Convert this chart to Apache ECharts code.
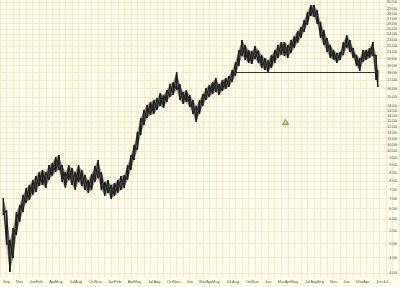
<!DOCTYPE html>
<html><head><meta charset="utf-8">
<script src="https://cdn.jsdelivr.net/npm/echarts@6/dist/echarts.min.js"></script>
<style>html,body{margin:0;padding:0;background:#fffdea}#c{width:400px;height:287px}</style>
</head><body><div id="c"></div>
<script>
// months since the start of the first August shown
const months = [0.5,1,1.5,2,2.5,3,3.5,4,4.5,5,5.5,6,6.5,7,7.5,8,8.5,9,9.5,10,10.5,11,11.5,12,12.5,13,13.5,14,14.5,15,15.5,16,16.5,17,17.5,18,18.5,19,19.5,20,20.5,21,21.5,22,22.5,23,23.5,24,24.5,25,25.5,26,26.5,27,27.5,28,28.5,29,29.5,30,30.5,31,31.5,32,32.5,33,33.5,34,34.5,35,35.5,36,36.5,37,37.5,38,38.5,39,39.5,40,40.5,41,41.5,42,42.5,43,43.5,44,44.5,45,45.5,46,46.5,47,47.5,48,48.5,49,49.5,50,50.5,51,51.5,52,52.5,53,53.5,54,54.5,55,55.5,56,56.5,57,57.5,57.75];
const highs = [7.04,6.43,5.14,5.62,6.33,6.68,7.20,7.59,7.76,8.05,8.30,8.55,8.68,8.55,9.01,9.15,9.57,9.71,9.01,8.55,9.01,8.81,8.55,9.01,8.68,8.36,8.05,8.42,8.94,9.36,8.55,7.93,8.05,7.76,7.87,8.05,8.30,8.36,9.01,9.71,10.47,11.54,12.82,13.61,14.13,14.45,14.67,14.89,15.46,15.23,15.81,16.53,16.79,18.09,16.53,15.58,15.81,15.23,14.67,14.03,14.67,15.35,16.05,16.41,16.79,17.30,16.53,17.04,17.30,17.56,18.37,19.51,21.34,23.00,22.16,21.34,21.18,22.00,21.34,20.56,20.10,19.80,20.56,21.34,22.16,22.66,22.66,22.16,23.00,23.70,24.61,25.36,26.72,28.37,29.90,29.90,28.80,26.33,24.79,23.35,22.16,21.34,20.87,21.02,22.66,23.88,23.00,21.67,20.56,20.10,21.34,21.34,21.67,22.66,20.56,18.37];
const lows = [6.19,4.95,4.04,4.49,5.33,5.88,6.33,6.78,6.93,7.20,7.36,7.70,7.76,7.59,8.05,8.30,8.55,8.68,7.93,7.59,8.05,7.76,7.47,7.93,7.70,7.47,7.31,7.47,7.93,8.17,7.47,7.15,7.31,6.98,7.15,7.31,7.47,7.59,8.05,8.68,9.36,10.08,11.28,12.16,12.82,13.11,13.21,13.61,14.03,13.82,14.45,15.00,15.23,15.81,14.67,14.24,14.45,13.92,13.21,12.44,13.21,14.03,14.67,15.00,15.35,15.58,15.23,15.69,15.93,16.17,16.79,17.56,18.92,20.41,19.80,19.36,19.21,19.95,19.36,18.65,18.37,18.09,18.65,19.36,20.10,20.56,20.41,20.10,20.87,21.67,22.50,23.35,24.43,25.74,27.53,27.33,25.94,23.35,22.16,21.02,20.10,19.80,19.36,19.80,20.56,21.67,21.02,20.10,18.92,18.23,19.51,19.80,20.10,20.41,17.04,16.17];
// price tick labels on the right
const yTicks = [4,4.5,5,5.5,6,6.5,7,7.5,8,8.5,9,9.5,10,10.5,11,11.5,12,12.5,13,13.5,14,15,16,17,18,19,20,21,22,23,24,25,26,27,28,29,30.5];
const yRange = [3.892, 31.04];
// month tick labels along the bottom
const xLabelMonths = [0,1,3,5,6,8,9,11,12,14,15,17,18,20,21,23,24,26,27,29,31,32,33,35,36,38,39,41,43,44,45,47,48,49,51,53,55,56,58,59];
const xLabelNames = ['Aug','Sep','Nov','Jan','Feb','Apr','May','Jul','Aug','Oct','Nov','Jan','Feb','Apr','May','Jul','Aug','Oct','Nov','Jan','Mar','Apr','May','Jul','Aug','Oct','Nov','Jan','Mar','Apr','May','Jul','Aug','Sep','Nov','Jan','Mar','Apr','Jun','Jul'];
const xRange = [0, 61];
// support line and marker
const supportPrice = [18];
const supportMonths = [35.7, 57.8];
const markerMonth = [43.65];
const markerPrice = [12.44];

const lnH = highs.map(Math.log), lnL = lows.map(Math.log);
const gridCol = '#eeeacb';
const ink = '#1c1c1c';
const chart = echarts.init(document.getElementById('c'), null, {renderer:'canvas'});
chart.setOption({
  animation:false,
  backgroundColor:'#fffdea',
  grid:{left:-1.8, right:1, top:0, bottom:10, containLabel:false},
  xAxis:{type:'value', min:xRange[0], max:xRange[1], interval:1,
    axisLine:{show:false}, axisTick:{show:false},
    splitLine:{show:true, lineStyle:{color:gridCol, width:1}},
    axisLabel:{customValues:xLabelMonths, fontSize:4, color:'#555', margin:3, fontFamily:'Liberation Sans',
      formatter:v=>{const k=xLabelMonths.indexOf(Math.round(v)); return k>=0?xLabelNames[k]:'';}}},
  yAxis:{type:'value', position:'right', min:Math.log(yRange[0]), max:Math.log(yRange[1]),
    axisLine:{show:false},
    axisTick:{show:false, customValues:yTicks.map(Math.log)},
    splitLine:{show:true, lineStyle:{color:gridCol, width:1}},
    axisLabel:{inside:true, customValues:yTicks.map(Math.log), fontSize:4, color:'#555', margin:2, fontFamily:'Liberation Sans',
      formatter:v=>Math.exp(v).toFixed(2)}},
  series:[
    {type:'custom', clip:true,
     data:months.map((m,i)=>[m,lnH[i],lnL[i]]),
     renderItem:(params, api)=>{
       const i = params.dataIndex;
       const top = api.coord([months[i], lnH[i]]);
       const bot = api.coord([months[i], lnL[i]]);
       const children = [{type:'line', shape:{x1:top[0], y1:top[1], x2:bot[0], y2:bot[1]}, style:{stroke:ink, lineWidth:1.4}}];
       if (i < months.length-1) {
         const nTop = api.coord([months[i+1], lnH[i+1]]);
         const nBot = api.coord([months[i+1], lnL[i+1]]);
         children.push({type:'line', shape:{x1:top[0], y1:top[1], x2:nBot[0], y2:nBot[1]}, style:{stroke:ink, lineWidth:1}});
         children.push({type:'line', shape:{x1:bot[0], y1:bot[1], x2:nTop[0], y2:nTop[1]}, style:{stroke:ink, lineWidth:1}});
         children.push({type:'polygon', shape:{points:[top,nTop,nBot,bot].map(p=>p)}, style:{fill:'rgba(28,28,28,0.45)'}});
       }
       return {type:'group', children};
     },
     markLine:{silent:true, symbol:'none', label:{show:false},
       lineStyle:{color:'#333', width:1, type:'solid'},
       data:[[{coord:[supportMonths[0], Math.log(supportPrice[0])]},{coord:[supportMonths[1], Math.log(supportPrice[0])]}]]}
    },
    {type:'scatter', symbol:'triangle', symbolSize:[6,5],
     itemStyle:{color:'#d9cc45', borderColor:'#5a5a2a', borderWidth:0.8},
     data:markerMonth.map((m,i)=>[m, Math.log(markerPrice[i])])}
  ]
});
</script></body></html>
